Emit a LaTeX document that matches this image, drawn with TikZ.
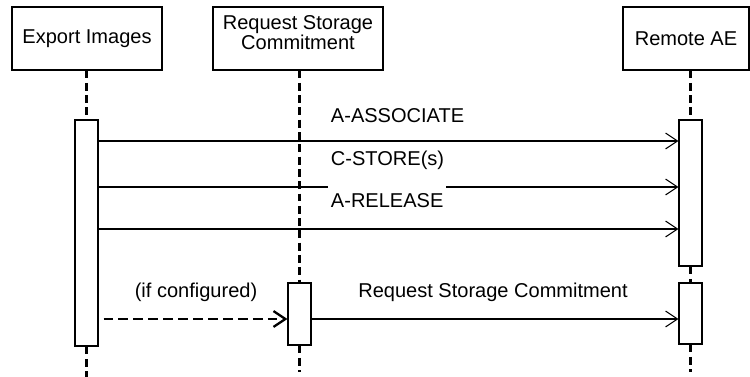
\documentclass[tikz,border=0pt]{standalone}
\usepackage{fontspec}
\setmainfont{Liberation Sans}
\usetikzlibrary{arrows.meta}

\begin{document}
\begin{tikzpicture}[
    x=0.02cm, y=-0.02cm,
    font=\fontsize{11.4}{11.2}\selectfont,
    obj/.style={rectangle, draw=black, line width=0.6pt, fill=white,
        minimum height=1.26cm, align=center, inner sep=2pt},
    act/.style={rectangle, draw=black, line width=0.6pt, fill=white,
        minimum width=0.46cm, inner sep=0pt},
    life/.style={line width=1.4pt, dash pattern=on 4.5pt off 2.5pt},
    msg/.style={line width=0.6pt, -{Straight Barb[length=6.8pt, width=9pt]}},
    opt/.style={msg, line width=1.3pt, dash pattern=on 5.5pt off 3pt},
    lbl/.style={fill=white, inner xsep=1.5pt, minimum height=0.58cm}
]
    \useasboundingbox (0,0) rectangle (750,377);
    \node[obj, minimum width=3cm] (ei) at (87,38.5) {Export Images};
    \node[obj, minimum width=3.4cm] (rsc) at (298,38.5) {Request Storage\\Commitment\\[-4.4pt]};
    \node[obj, minimum width=2.52cm] (rae) at (686,38.5) {Remote AE};
    \node[act, minimum height=4.52cm] (eiA) at (86.5,233) {};
    \node[act, minimum height=1.24cm] (rscA) at (299.5,314) {};
    \node[act, minimum height=2.92cm] (raeA) at (690.5,193) {};
    \node[act, minimum height=1.22cm] (raeB) at (690.5,313.5) {};
    \coordinate (eiEnd) at (86.5,377);
    \coordinate (rscEnd) at (299.5,372);
    \coordinate (raeEnd) at (690.5,372);
    \draw[life] (ei.south -| eiA.north) -- (eiA.north);
    \draw[life] (eiA.south) -- (eiEnd);
    \draw[life] (rsc.south -| rscA.north) -- (rscA.north);
    \draw[life] (rscA.south) -- (rscEnd);
    \draw[life] (rae.south -| raeA.north) -- (raeA.north);
    \draw[life] (raeA.south) -- (raeB.north);
    \draw[life] (raeB.south) -- (raeEnd);
    \draw[msg] (eiA.east |- 0,141) -- (raeA.west |- 0,141);
    \node[lbl, anchor=west] (assoc) at (328,116) {A-ASSOCIATE};
    \draw[msg] (eiA.east |- 0,187) -- (raeA.west |- 0,187);
    \node[lbl, anchor=west] (store) at (328,160) {C-STORE(s)};
    \draw[msg] (eiA.east |- 0,229) -- (raeA.west |- 0,229);
    \node[lbl, anchor=west] (release) at (328,201) {A-RELEASE};
    \draw[opt] ([xshift=0.1cm]eiA.east |- 0,319) -- (rscA.west |- 0,319);
    \node[lbl] (cond) at (196,292) {(if configured)};
    \draw[msg] (rscA.east |- 0,319) -- (raeB.west |- 0,319);
    \node[lbl] (commit) at (493,292) {Request Storage Commitment};
\end{tikzpicture}
\end{document}
